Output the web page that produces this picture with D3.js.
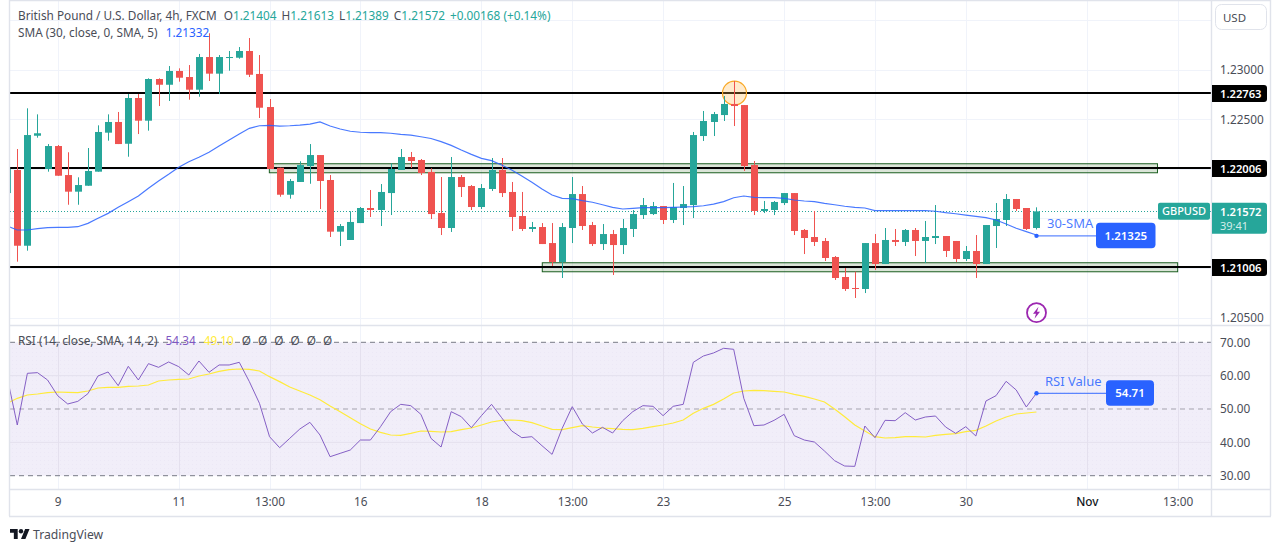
<!DOCTYPE html>
<html>
  <head>
    <meta charset="utf-8">
    <script src="https://cdnjs.cloudflare.com/ajax/libs/d3/7.8.5/d3.min.js" charset="utf-8"></script>
    <style type="text/css">
    html, body { margin: 0; padding: 0; background: #fff; }
    svg { display: block; }
    text { font-family: "Noto Sans", sans-serif; }
    </style>
  </head>
  <body>
  <script type="text/javascript">
  // the first bar is cut off by the left edge of the chart
  var opens = [1.21757,1.21990,1.21225,1.22336,1.22000,1.22232,1.21939,1.21771,1.21831,1.21973,1.22367,1.22475,1.22255,1.22717,1.22488,1.22909,1.22851,1.22990,1.22929,1.22801,1.23131,1.22963,1.23121,1.23124,1.23192,1.22960,1.22626,1.22013,1.21740,1.21869,1.22030,1.22141,1.21889,1.21367,1.21283,1.21454,1.21606,1.21586,1.21757,1.21990,1.22121,1.22091,1.21970,1.21555,1.21404,1.21919,1.21828,1.21616,1.21798,1.21990,1.21768,1.21525,1.21394,1.21414,1.21252,1.21061,1.21404,1.21747,1.21434,1.21242,1.21343,1.21232,1.21394,1.21535,1.21545,1.21626,1.21485,1.21606,1.21636,1.22333,1.22475,1.22545,1.22657,1.22646,1.22040,1.21576,1.21586,1.21656,1.21757,1.21384,1.21313,1.21273,1.21111,1.20909,1.20798,1.20788,1.21252,1.21040,1.21283,1.21263,1.21384,1.21273,1.21303,1.21323,1.21273,1.21091,1.21172,1.21040,1.21424,1.21485,1.21697,1.21606,1.21404];
  var highs = [1.22050,1.22202,1.22613,1.22552,1.22252,1.22242,1.22169,1.21916,1.22212,1.22441,1.22552,1.22576,1.22757,1.22757,1.22916,1.22916,1.23040,1.23017,1.23050,1.23162,1.23371,1.23151,1.23192,1.23232,1.23323,1.23151,1.22707,1.22013,1.21899,1.22078,1.22252,1.22141,1.21939,1.21444,1.21573,1.21616,1.21788,1.21848,1.22057,1.22202,1.22172,1.22101,1.22007,1.21919,1.22121,1.21939,1.21838,1.21848,1.22111,1.22111,1.21869,1.21768,1.21465,1.21454,1.21454,1.21454,1.21919,1.21828,1.21465,1.21444,1.21384,1.21495,1.21586,1.21707,1.21667,1.21626,1.21859,1.21828,1.22374,1.22586,1.22576,1.22737,1.22889,1.22646,1.22081,1.21677,1.21677,1.21757,1.21757,1.21394,1.21576,1.21303,1.21121,1.21000,1.20963,1.21252,1.21343,1.21404,1.21394,1.21394,1.21404,1.21475,1.21636,1.21323,1.21273,1.21222,1.21333,1.21434,1.21656,1.21747,1.21697,1.21606,1.21613];
  var lows = [1.21650,1.21064,1.21175,1.22316,1.21973,1.21932,1.21639,1.21639,1.21831,1.21973,1.22286,1.22252,1.22124,1.22353,1.22387,1.22636,1.22687,1.22882,1.22700,1.22730,1.22889,1.22757,1.22993,1.23114,1.22929,1.22515,1.22000,1.21720,1.21700,1.21869,1.21851,1.21596,1.21313,1.21222,1.21283,1.21454,1.21515,1.21424,1.21535,1.21990,1.22010,1.21939,1.21495,1.21333,1.21364,1.21717,1.21586,1.21596,1.21778,1.21717,1.21374,1.21374,1.21364,1.21242,1.21020,1.20899,1.21252,1.21384,1.21222,1.21182,1.20929,1.21141,1.21313,1.21495,1.21535,1.21444,1.21454,1.21434,1.21505,1.22283,1.22333,1.22485,1.22434,1.21980,1.21535,1.21555,1.21535,1.21636,1.21333,1.21141,1.21222,1.21071,1.20879,1.20768,1.20697,1.20747,1.20980,1.21040,1.21222,1.21222,1.21121,1.21050,1.21242,1.21111,1.21061,1.21071,1.20899,1.21040,1.21202,1.21424,1.21576,1.21384,1.21389];
  var closes = [1.22000,1.21225,1.22343,1.22361,1.22232,1.21932,1.21771,1.21838,1.21980,1.22374,1.22475,1.22252,1.22717,1.22488,1.22909,1.22851,1.22990,1.22922,1.22801,1.23131,1.22963,1.23131,1.23131,1.23192,1.22952,1.22619,1.22000,1.21740,1.21879,1.22040,1.22141,1.21879,1.21367,1.21424,1.21465,1.21606,1.21586,1.21768,1.22000,1.22121,1.22081,1.21960,1.21545,1.21404,1.21919,1.21818,1.21616,1.21808,1.21990,1.21757,1.21515,1.21394,1.21414,1.21242,1.21061,1.21414,1.21747,1.21424,1.21242,1.21343,1.21232,1.21404,1.21545,1.21636,1.21626,1.21485,1.21616,1.21646,1.22343,1.22485,1.22555,1.22657,1.22636,1.22030,1.21576,1.21596,1.21667,1.21757,1.21374,1.21303,1.21263,1.21101,1.20899,1.20788,1.20788,1.21252,1.21040,1.21283,1.21263,1.21384,1.21273,1.21313,1.21323,1.21172,1.21091,1.21172,1.21040,1.21434,1.21495,1.21697,1.21596,1.21394,1.21572];
  var sma = [1.21424,1.21384,1.21384,1.21397,1.21407,1.21411,1.21411,1.21417,1.21451,1.21502,1.21552,1.21613,1.21670,1.21727,1.21805,1.21879,1.21946,1.22017,1.22074,1.22118,1.22169,1.22232,1.22293,1.22353,1.22411,1.22437,1.22441,1.22434,1.22437,1.22444,1.22454,1.22475,1.22434,1.22404,1.22381,1.22371,1.22367,1.22367,1.22361,1.22350,1.22343,1.22326,1.22308,1.22276,1.22239,1.22192,1.22148,1.22108,1.22084,1.22040,1.21990,1.21929,1.21866,1.21798,1.21737,1.21704,1.21700,1.21680,1.21664,1.21639,1.21613,1.21596,1.21603,1.21609,1.21609,1.21609,1.21613,1.21616,1.21619,1.21629,1.21646,1.21670,1.21710,1.21727,1.21714,1.21710,1.21710,1.21704,1.21687,1.21677,1.21670,1.21653,1.21639,1.21624,1.21613,1.21606,1.21579,1.21579,1.21579,1.21579,1.21579,1.21579,1.21573,1.21559,1.21548,1.21535,1.21522,1.21508,1.21485,1.21444,1.21401,1.21367,1.21333];
  var rsi = [59.5,45.2,60.7,60.9,58.7,54.0,51.5,52.3,54.6,59.9,61.1,57.0,62.8,58.7,63.6,62.5,64.1,62.7,60.2,64.4,61.0,63.2,63.2,64.0,58.2,51.7,41.7,38.4,41.2,44.0,46.0,42.2,35.7,36.7,37.7,40.7,40.7,44.7,49.2,51.4,51.0,48.4,41.2,38.6,49.2,47.7,44.4,48.0,51.4,47.4,43.4,41.4,41.7,39.0,36.4,44.2,50.7,45.5,42.8,44.5,42.8,46.5,49.2,51.0,50.8,48.0,50.8,51.4,64.0,65.9,66.8,68.2,67.9,53.2,45.0,45.2,46.6,48.4,42.0,40.7,40.1,37.4,34.5,32.9,32.8,44.9,41.4,46.6,46.5,48.9,46.7,47.6,47.9,44.6,42.7,44.7,41.9,52.4,54.0,58.3,55.7,50.6,54.71];
  var rsiMa = [51.7,53.2,54.2,54.5,54.9,55.1,55.0,54.9,55.4,56.3,56.5,56.5,56.8,56.9,57.2,58.4,58.7,58.9,59.0,59.9,60.5,61.3,61.8,62.0,61.9,61.4,59.7,58.2,56.6,55.4,54.2,52.8,50.9,49.2,47.4,45.6,44.0,43.0,42.2,42.1,42.7,43.4,43.3,43.1,43.2,43.8,44.3,45.2,46.1,46.6,46.7,46.5,45.9,44.9,43.9,43.8,44.4,45.0,44.6,44.3,44.1,43.9,43.8,44.2,44.7,45.2,45.8,46.7,48.7,50.2,51.4,53.0,54.8,55.4,55.6,55.5,55.3,55.1,54.4,53.8,53.0,52.1,50.0,47.7,45.2,43.4,41.7,41.3,41.4,41.7,41.7,41.6,42.1,42.4,42.6,43.2,43.6,44.9,46.4,47.6,48.5,48.8,49.1];

  var timeIndex = [5,17,26,35,47,56,65,77,86,95,107,116];
  var timeLabels = ["9","11","13:00","16","18","13:00","23","25","13:00","30","Nov","13:00"];
  var priceTicks = [1.23,1.225,1.205];
  var priceGrid = [1.235,1.23,1.225,1.22,1.215,1.21,1.205];
  var rsiTicks = [70,60,50,40,30];
  var rsiGrid = [60,40];
  var rsiDashes = [70,50,30];
  var levels = [1.22763,1.22006,1.21006];
  var lastPrice = 1.21572;
  var smaLabel = 1.21325;
  var rsiLabel = 54.71;
  // support and resistance zones: price range and bar range
  var zoneHigh = [1.22053,1.21053];
  var zoneLow = [1.21962,1.20962];
  var zoneFrom = [25.98,53.03];
  var zoneTo = [114.0,116.0];

  var width = 1275, height = 552;
  var left = 10, right = 1211, paneBottom = 325, rsiBottom = 489, axisBottom = 516, outer = 1271;

  var green = "#26a69a", red = "#ef5350", blue = "#2962ff", purple = "#7e57c2", yellow = "#ffeb3b";
  var gridColor = "#f0f3fa", borderColor = "#e0e3eb", axisText = "#4a4d57";

  var x = d3.scaleLinear().domain([0,102]).range([7.2,1036.4]);
  var y = d3.scaleLinear().domain([1.23,1.205]).range([70,317.5]);
  var yRsi = d3.scaleLinear().domain([70,30]).range([342.3,475.7]);

  var bars = d3.range(opens.length);
  // snap to whole pixels so wicks stay crisp
  function cx(i) { return Math.round(x(i)) + 0.5 }

  var svg = d3.select("body").append("svg")
    .attr("width", width)
    .attr("height", height)

  var defs = svg.append("defs")
  defs.append("clipPath").attr("id","clipMain").append("rect")
    .attr("x",left).attr("y",0).attr("width",right-left).attr("height",paneBottom)
  defs.append("clipPath").attr("id","clipRsi").append("rect")
    .attr("x",left).attr("y",paneBottom).attr("width",right-left).attr("height",rsiBottom-paneBottom)
  var dots = defs.append("pattern").attr("id","dots")
    .attr("width",4).attr("height",4).attr("patternUnits","userSpaceOnUse")
  dots.append("rect").attr("width",4).attr("height",4).attr("fill","#f1eef9")
  dots.append("rect").attr("width",1).attr("height",1).attr("fill","#ece8f6")

  // grid
  var grid = svg.append("g")
  grid.selectAll(".v").data(timeIndex).enter().append("line")
    .attr("x1",cx).attr("x2",cx).attr("y1",0).attr("y2",rsiBottom)
    .attr("stroke",gridColor)
  grid.selectAll(".h").data(priceGrid).enter().append("line")
    .attr("x1",left).attr("x2",right)
    .attr("y1",function(d){return Math.round(y(d))+0.5})
    .attr("y2",function(d){return Math.round(y(d))+0.5})
    .attr("stroke",gridColor)

  // rsi background band
  var rsiPane = svg.append("g").attr("clip-path","url(#clipRsi)")
  rsiPane.append("rect")
    .attr("x",left).attr("width",right-left)
    .attr("y",yRsi(70)).attr("height",yRsi(30)-yRsi(70))
    .attr("fill","url(#dots)")
  rsiPane.selectAll(".v").data(timeIndex).enter().append("line")
    .attr("x1",cx).attr("x2",cx).attr("y1",yRsi(70)).attr("y2",yRsi(30))
    .attr("stroke","#e4e0ee")
  rsiPane.selectAll(".h").data(rsiGrid).enter().append("line")
    .attr("x1",left).attr("x2",right)
    .attr("y1",yRsi).attr("y2",yRsi)
    .attr("stroke","#e4e0ee")
  rsiPane.selectAll(".dash").data(rsiDashes).enter().append("line")
    .attr("x1",left).attr("x2",right)
    .attr("y1",yRsi).attr("y2",yRsi)
    .attr("stroke",function(d){return d == 50 ? "#a5a3ae" : "#787b86"})
    .attr("stroke-dasharray","5,4")

  var main = svg.append("g").attr("clip-path","url(#clipMain)")

  // last price dotted line
  main.append("line")
    .attr("x1",left).attr("x2",right)
    .attr("y1",Math.round(y(lastPrice))+0.5).attr("y2",Math.round(y(lastPrice))+0.5)
    .attr("stroke",green).attr("stroke-dasharray","1,2")

  main.selectAll(".zone").data(d3.range(zoneHigh.length)).enter().append("rect")
    .attr("x",function(d){return x(zoneFrom[d])})
    .attr("width",function(d){return x(zoneTo[d])-x(zoneFrom[d])})
    .attr("y",function(d){return y(zoneHigh[d])})
    .attr("height",function(d){return y(zoneLow[d])-y(zoneHigh[d])})
    .attr("fill","#4c7d3c").attr("fill-opacity",0.2)
    .attr("stroke","#1b5e20").attr("stroke-width",1)

  main.selectAll(".level").data(levels).enter().append("line")
    .attr("x1",left).attr("x2",right)
    .attr("y1",function(d){return y(d)-0.4})
    .attr("y2",function(d){return y(d)-0.4})
    .attr("stroke","#000").attr("stroke-width",2)

  // orange marker on the rejection candle
  main.append("circle")
    .attr("cx",cx(72)).attr("cy",y(levels[0])-0.4).attr("r",12)
    .attr("fill","#ffb74d").attr("fill-opacity",0.28)
    .attr("stroke","#f9a825").attr("stroke-width",1.2)

  // candles
  function barColor(i) { return closes[i] >= opens[i] ? green : red }
  main.selectAll(".wick").data(bars).enter().append("line")
    .attr("x1",cx).attr("x2",cx)
    .attr("y1",function(i){return y(highs[i])})
    .attr("y2",function(i){return y(lows[i])})
    .attr("stroke",barColor)
  main.selectAll(".body").data(bars).enter().append("rect")
    .attr("x",function(i){return cx(i)-3.5})
    .attr("width",7)
    .attr("y",function(i){return y(Math.max(opens[i],closes[i]))})
    .attr("height",function(i){return Math.max(1,Math.abs(y(opens[i])-y(closes[i])))})
    .attr("fill",barColor)

  // sma line
  var smaLine = d3.line().x(function(i){return x(i)}).y(function(i){return y(sma[i])})
  main.append("path").attr("d",smaLine(bars))
    .attr("fill","none").attr("stroke",blue).attr("stroke-width",1.2).attr("stroke-opacity",0.85)

  // rsi lines
  var rsiLine = d3.line().x(function(i){return x(i)}).y(function(i){return yRsi(rsi[i])})
  var rsiMaLine = d3.line().x(function(i){return x(i)}).y(function(i){return yRsi(rsiMa[i])})
  rsiPane.append("path").attr("d",rsiMaLine(bars))
    .attr("fill","none").attr("stroke",yellow).attr("stroke-width",1.2)
  rsiPane.append("path").attr("d",rsiLine(bars))
    .attr("fill","none").attr("stroke",purple).attr("stroke-width",1).attr("stroke-opacity",0.95)

  // frame
  var frame = [
    [left-1,0.5,outer,0.5],
    [left-0.5,0,left-0.5,axisBottom],
    [right+0.5,0,right+0.5,axisBottom],
    [outer-0.5,0,outer-0.5,axisBottom],
    [left,paneBottom+0.5,outer,paneBottom+0.5],
    [left,rsiBottom+0.5,outer,rsiBottom+0.5],
    [left-1,axisBottom+0.5,outer,axisBottom+0.5]
  ]
  svg.selectAll(".frame").data(frame).enter().append("line")
    .attr("x1",function(d){return d[0]}).attr("y1",function(d){return d[1]})
    .attr("x2",function(d){return d[2]}).attr("y2",function(d){return d[3]})
    .attr("stroke",borderColor).attr("stroke-width",1.4)

  // axes
  var priceAxis = d3.axisRight(y).tickValues(priceTicks).tickFormat(d3.format(".5f")).tickSize(0).tickPadding(9)
  var rsiAxis = d3.axisRight(yRsi).tickValues(rsiTicks).tickFormat(d3.format(".2f")).tickSize(0).tickPadding(9)
  var timeAxis = d3.axisBottom(x).tickValues(timeIndex)
    .tickFormat(function(d,i){return timeLabels[i]}).tickSize(0).tickPadding(9)

  function styleAxis(g) {
    g.select(".domain").remove()
    g.selectAll("text").attr("fill",axisText).style("font-size","11.8px").style("font-family",'"Noto Sans", sans-serif')
  }
  svg.append("g").attr("transform","translate("+right+",0)").call(priceAxis).call(styleAxis)
  svg.append("g").attr("transform","translate("+right+",0)").call(rsiAxis).call(styleAxis)
  var tAxis = svg.append("g").attr("transform","translate(0,"+rsiBottom+")").call(timeAxis).call(styleAxis)
  tAxis.selectAll("text").filter(function(d,i){return timeLabels[i] == "Nov"})
    .attr("fill","#131722").style("font-weight","500")

  // price tags on the axis
  function tag(value, h, fill) {
    var top = y(value) - 8.5
    svg.append("path")
      .attr("d","M"+(right+1)+","+top+"h52a3,3 0 0 1 3,3v"+(h-6)+"a3,3 0 0 1 -3,3h-52z")
      .attr("fill",fill)
    svg.append("text").attr("x",right+9).attr("y",top+12.8)
      .attr("fill","#fff").style("font-size","11.2px").style("font-weight","600")
      .text(d3.format(".5f")(value))
  }
  levels.forEach(function(d){ tag(d,17,"#000") })
  tag(lastPrice,31,green)
  svg.append("text").attr("x",right+9).attr("y",y(lastPrice)-8.5+27.3)
    .attr("fill","#d4edea").style("font-size","11px").text("39:41")
  svg.append("rect")
    .attr("x",1158).attr("y",y(lastPrice)-8.5).attr("width",52).attr("height",17).attr("rx",2)
    .attr("fill",green)
  svg.append("text").attr("x",1184).attr("y",y(lastPrice)+4).attr("text-anchor","middle")
    .attr("fill","#fff").style("font-size","11px").style("font-weight","500").text("GBPUSD")

  // drawn callouts
  function callout(yValue, scale, fmt, label, labelX, labelY, boxX, boxW) {
    var yy = scale(yValue)
    svg.append("line").attr("x1",cx(102)).attr("x2",boxX).attr("y1",yy).attr("y2",yy)
      .attr("stroke",blue).attr("stroke-opacity",0.75).attr("stroke-width",1.3)
    svg.append("circle").attr("cx",cx(102)).attr("cy",yy).attr("r",2.2).attr("fill",blue)
    svg.append("rect").attr("x",boxX).attr("y",yy-13).attr("width",boxW).attr("height",25.5).attr("rx",4)
      .attr("fill",blue)
    svg.append("text").attr("x",boxX+boxW/2).attr("y",yy+4).attr("text-anchor","middle")
      .attr("fill","#fff").style("font-size","11.5px").style("font-weight","600").text(fmt(yValue))
    svg.append("text").attr("x",labelX).attr("y",labelY).attr("fill",blue)
      .style("font-size","13px").style("fill-opacity",0.85).text(label)
  }
  callout(smaLabel, y, d3.format(".5f"), "30-SMA", 1047, 228, 1096, 59.5)
  callout(rsiLabel, yRsi, d3.format(".2f"), "RSI Value", 1045, 386, 1106, 48)

  // legends
  function legend(yy, parts) {
    var t = svg.append("text").attr("x",18).attr("y",yy).style("font-size","11.8px")
    parts.forEach(function(p){
      t.append("tspan").attr("fill",p[1]).attr("dx",p[2] || 0).text(p[0])
    })
  }
  var ink = "#4a4d57"
  legend(19.5,[["British Pound / U.S. Dollar, 4h, FXCM",ink],["O",ink,7],["1.21404",green],["H",ink,5],["1.21613",green],["L",ink,5],["1.21389",green],["C",ink,5],["1.21572",green],["+0.00168 (+0.14%)",green,5]])
  legend(36.5,[["SMA (30, close, 0, SMA, 5)",ink],["1.21332",blue,8]])
  legend(345,[["RSI (14, close, SMA, 14, 2)",ink],["54.34",purple,8],["49.10",yellow,8],["\u00d8",ink,8],["\u00d8",ink,7],["\u00d8",ink,7],["\u00d8",ink,7],["\u00d8",ink,7],["\u00d8",ink,7]])

  // currency button
  svg.append("rect").attr("x",1215.5).attr("y",4.5).attr("width",51).attr("height",25).attr("rx",6)
    .attr("fill","#fff").attr("stroke",borderColor)
  svg.append("text").attr("x",1234.5).attr("y",21.5).attr("text-anchor","middle")
    .attr("fill",ink).style("font-size","11.5px").text("USD")

  // earnings style icon
  var icon = svg.append("g").attr("transform","translate(1036.5,312.7)")
  icon.append("circle").attr("r",9.5).attr("fill","#fff").attr("stroke","#9c27b0").attr("stroke-width",1.8)
  icon.append("path").attr("d","M2,-6L-3.5,1H-0.5L-2,6L3.5,-1H0.5Z").attr("fill","#9c27b0")

  // logo
  var logo = svg.append("g").attr("transform","translate(10,526.8) scale(0.55)").attr("fill","#131722")
  logo.append("path").attr("d","M14 22H7V11H0V4h14v18zM28 22h-8l7.5-18h8L28 22z")
  logo.append("circle").attr("cx",20).attr("cy",8).attr("r",4)
  svg.append("text").attr("x",33).attr("y",539).attr("fill",ink).style("font-size","12.2px").text("TradingView")
  </script>
  </body>
</html>
